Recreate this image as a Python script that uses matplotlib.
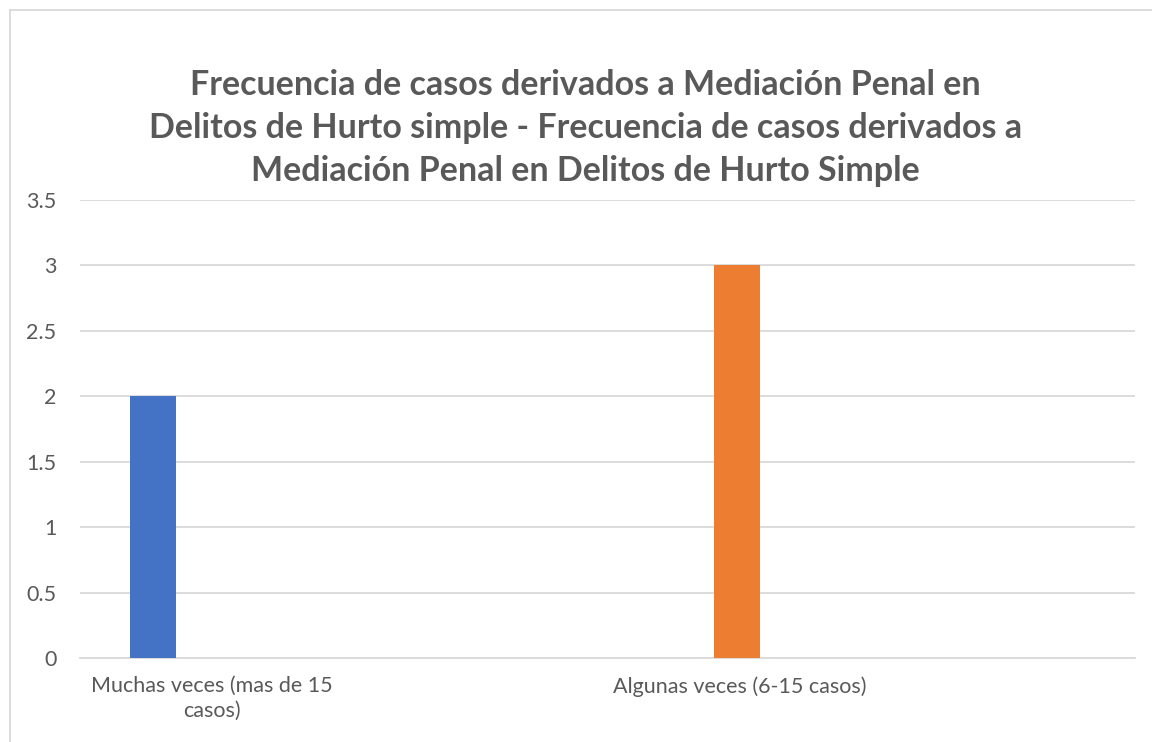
import matplotlib
matplotlib.use("Agg")
import matplotlib.pyplot as plt
from matplotlib.patches import Rectangle

# chart data
categories = ["Muchas veces (mas de 15\ncasos)", "", "Algunas veces (6-15 casos)", ""]
bar_values = [2, 3]
bar_category = [0, 2]
bar_colors = ["#4472C4", "#ED7D31"]
y_ticks = [0, 0.5, 1, 1.5, 2, 2.5, 3, 3.5]
y_tick_labels = ["0", "0.5", "1", "1.5", "2", "2.5", "3", "3.5"]
title = ("Frecuencia de casos derivados a Mediación Penal en\n"
         "Delitos de Hurto simple - Frecuencia de casos derivados a\n"
         "Mediación Penal en Delitos de Hurto Simple")

# series offsets inside each category (excel cluster layout)
bar_offsets = [-0.223, -0.009]
bar_width = 0.174

plt.rcParams["font.family"] = ["Lato", "DejaVu Sans"]
text_gray = "#595959"
grid_gray = "#D9D9D9"

fig = plt.figure(figsize=(11.52, 7.42), dpi=100)
ax = fig.add_axes([80 / 1152, 1 - 658 / 742, (1135 - 80) / 1152, (658 - 200) / 742])

xs = [c + o for c, o in zip(bar_category, bar_offsets)]
ax.bar(xs, bar_values, width=bar_width, color=bar_colors, zorder=3)

ax.set_xlim(-0.5, len(categories) - 0.5)
ax.set_ylim(0, 3.5)
ax.set_yticks(y_ticks)
ax.set_yticklabels(y_tick_labels)
ax.set_xticks(range(len(categories)))
ax.set_xticklabels(categories, linespacing=1.3)
ax.yaxis.grid(True, color=grid_gray, linewidth=1.3, zorder=0)
ax.tick_params(axis="both", length=0, labelsize=15.5, labelcolor=text_gray)
ax.tick_params(axis="y", pad=17)
ax.tick_params(axis="x", pad=13)
for side in ["top", "right", "left"]:
    ax.spines[side].set_visible(False)
ax.spines["bottom"].set_color(grid_gray)
ax.spines["bottom"].set_linewidth(1.3)

fig.text(0.508, 1 - 128 / 742, title, ha="center", va="center",
         fontsize=24.5, fontweight="bold", color=text_gray, linespacing=1.42)

# chart area border (cropped at right and bottom in the reference)
fig.patches.append(Rectangle((10 / 1152, -0.05), 1.2, 1 - 10 / 742 + 0.05,
                             transform=fig.transFigure, fill=False,
                             edgecolor=grid_gray, linewidth=1.3))

fig.savefig("out.png", dpi=100)
